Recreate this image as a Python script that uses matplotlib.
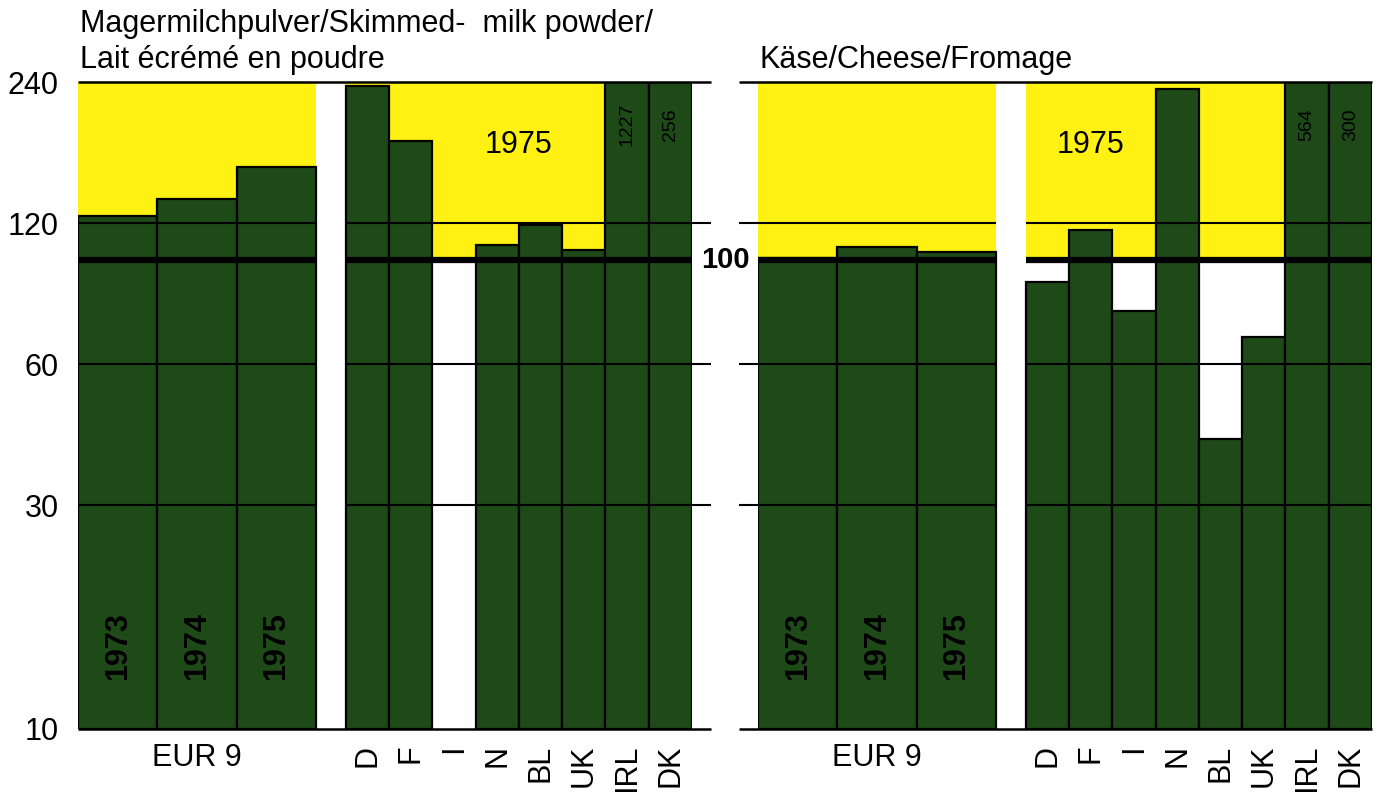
import numpy as np
import matplotlib.pyplot as plt
from matplotlib.ticker import NullLocator
from matplotlib.transforms import blended_transform_factory

plt.rcParams["font.family"] = ["Liberation Sans", "DejaVu Sans"]

# Index values (log scale, 100 = reference)
years = ["1973", "1974", "1975"]
countries = ["D", "F", "I", "N", "BL", "UK", "IRL", "DK"]

milk_eur9 = [124, 135, 158]
milk_countries = [235, 180, np.nan, 108, 119, 105, 1227, 256]

cheese_eur9 = [101, 106.5, 104]
cheese_countries = [90, 116, 78, 232, 41.5, 68.5, 564, 300]

yticks = [10, 30, 60, 120, 240]

GREEN = "#1d4a17"
YELLOW = "#fff212"
EUR_W = 1.834   # EUR 9 bars are wider than the country bars
GAP = 0.694
YMIN, YMAX = 10, 240
STUB = 0.45


def draw_panel(ax, eur9, country_vals, label_span, side):
    eur_x = np.arange(len(eur9)) * EUR_W
    c0 = len(eur9) * EUR_W + GAP
    c_x = c0 + np.arange(len(country_vals))
    x_end = c0 + len(country_vals)
    spans = [(0, c0 - GAP), (c0, x_end)]

    # yellow band above 100
    for a, b in spans:
        ax.fill_between([a, b], 100, YMAX, color=YELLOW, lw=0, zorder=0)

    # bars
    eur9 = np.array(eur9, dtype=float)
    ax.bar(eur_x, eur9 - YMIN, bottom=YMIN, width=EUR_W, align="edge",
           color=GREEN, edgecolor="black", lw=1.6, zorder=2)
    vals = np.array(country_vals, dtype=float)
    ok = ~np.isnan(vals)
    ax.bar(c_x[ok], vals[ok] - YMIN, bottom=YMIN, width=1, align="edge",
           color=GREEN, edgecolor="black", lw=1.6, zorder=2)

    # grid lines and the heavy 100 line
    for a, b in spans:
        ax.hlines([30, 60, 120], a, b, color="black", lw=1.5, zorder=3)
        ax.hlines(100, a, b, color="black", lw=4.5, zorder=4)
    if side == "left":
        ax.hlines([30, 60, 120], x_end, x_end + STUB, color="black", lw=1.5, clip_on=False)
        lo, hi = 0, x_end + STUB
    else:
        ax.hlines([30, 60, 120], -STUB, 0, color="black", lw=1.5, clip_on=False)
        lo, hi = -STUB, x_end
    ax.hlines([YMIN, YMAX], lo, hi, color="black", lw=1.8, clip_on=False, zorder=5)

    ax.set_yscale("log")
    ax.set_xlim(0, x_end)
    ax.set_ylim(YMIN, YMAX)
    ax.yaxis.set_minor_locator(NullLocator())
    ax.set_xticks([])
    for s in ax.spines.values():
        s.set_visible(False)

    # texts
    trans = blended_transform_factory(ax.transData, ax.transAxes)
    for x, yr in zip(eur_x + EUR_W / 2, years):
        ax.text(x, 15, yr, rotation=90, ha="center", va="center",
                fontsize=22, fontweight="bold", zorder=6)
    ax.text(len(eur9) * EUR_W / 2, -0.045, "EUR 9", transform=trans,
            ha="center", va="center", fontsize=22)
    for x, c in zip(c_x + 0.5, countries):
        ax.text(x, -0.024, c, transform=trans, rotation=90,
                ha="center", va="top", fontsize=22)
    for x, v in zip(c_x + 0.5, vals):
        if v > YMAX:
            ax.text(x, 195, f"{v:g}", rotation=90, ha="center", va="center",
                    fontsize=14, zorder=6)
    a, b = label_span
    ax.text((c_x[a] + c_x[b] + 1) / 2, 176, "1975", ha="center", va="center",
            fontsize=22, zorder=6)


fig = plt.figure(figsize=(13.81, 7.92), dpi=100)
W, H = 1381, 792
ax1 = fig.add_axes([78 / W, 63 / H, 614 / W, 647 / H])
ax2 = fig.add_axes([758 / W, 63 / H, 614 / W, 647 / H])

draw_panel(ax1, milk_eur9, milk_countries, (2, 5), "left")
draw_panel(ax2, cheese_eur9, cheese_countries, (0, 2), "right")

ax1.set_yticks(yticks)
ax1.set_yticklabels([str(t) for t in yticks])
ax1.tick_params(axis="y", length=0, pad=14, labelsize=22)
ax2.set_yticks([])

fig.text(725 / W, 1 - 260 / H, "100", ha="center", va="center",
         fontsize=21, fontweight="bold")

fig.text(80 / W, 1 - 32 / H, "Magermilchpulver/Skimmed-  milk powder/",
         ha="left", va="baseline", fontsize=22)
fig.text(80 / W, 1 - 68 / H, "Lait écrémé en poudre",
         ha="left", va="baseline", fontsize=22)
fig.text(760 / W, 1 - 68 / H, "Käse/Cheese/Fromage",
         ha="left", va="baseline", fontsize=22)

fig.savefig("out.png", dpi=100)
